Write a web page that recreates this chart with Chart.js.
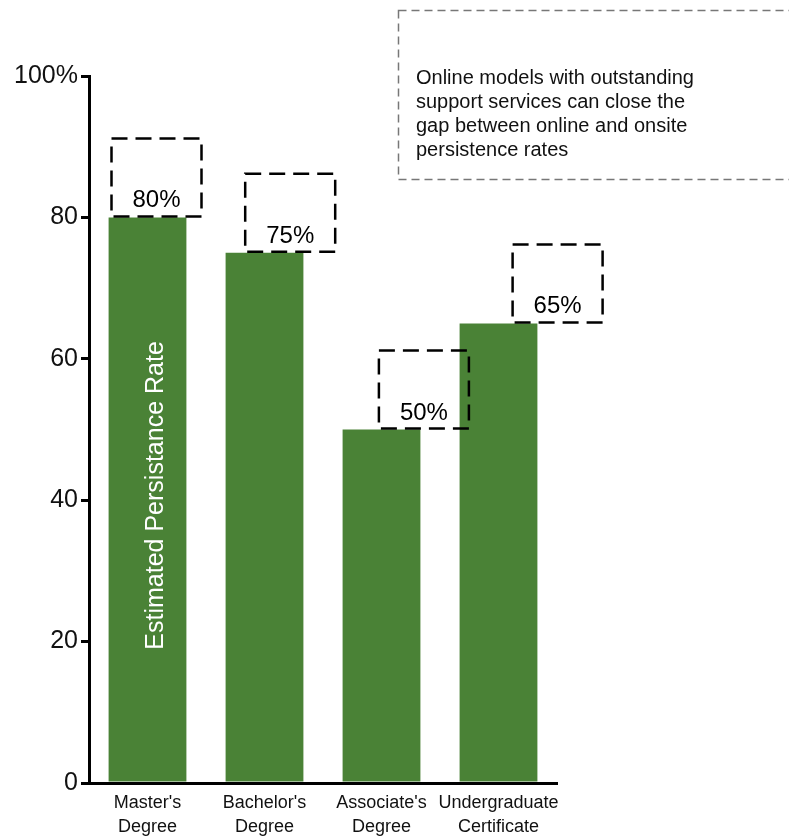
<!DOCTYPE html>
<html>
<head>
<meta charset="utf-8">
<style>
  html, body { margin: 0; padding: 0; background: #fff; }
  #wrap { width: 789px; height: 837px; }
</style>
<script src="https://cdn.jsdelivr.net/npm/chart.js@4/dist/chart.umd.min.js"></script>
</head>
<body>
<div id="wrap"><canvas id="rateChart" width="789" height="837"></canvas></div>
<script>
// categories and values
var categories = [["Master's", "Degree"], ["Bachelor's", "Degree"], ["Associate's", "Degree"], ["Undergraduate", "Certificate"]];
var rates = [80, 75, 50, 65];
var yTicks = [0, 20, 40, 60, 80, 100];
var axisTitle = 'Estimated Persistance Rate';
var noteLines = [
	'Online models with outstanding',
	'support services can close the',
	'gap between online and onsite',
	'persistence rates'
];

var green = '#4a8236';
var fontFace = '"Liberation Sans", Arial, Helvetica, sans-serif';

// dashed label boxes over each bar, plus the note and the rotated title
var overlay = {
	id: 'overlay',
	afterDatasetsDraw: function(chart) {
		var ctx = chart.ctx;
		var y = chart.scales.y;
		var bars = chart.getDatasetMeta(0).data;

		// title written inside the first bar
		var b0 = bars[0];
		ctx.save();
		ctx.translate(b0.x + 9, (b0.y + b0.base) / 2 - 4);
		ctx.rotate(-Math.PI / 2);
		ctx.fillStyle = '#ffffff';
		ctx.font = '25px ' + fontFace;
		ctx.textAlign = 'center';
		ctx.textBaseline = 'middle';
		ctx.fillText(axisTitle, 0, 0);
		ctx.restore();

		// value boxes
		ctx.save();
		ctx.strokeStyle = '#000';
		ctx.lineWidth = 2.5;
		ctx.setLineDash([16, 8]);
		ctx.font = '24px ' + fontFace;
		ctx.fillStyle = '#000';
		ctx.textAlign = 'center';
		ctx.textBaseline = 'alphabetic';
		rates.forEach(function(v, i) {
			var cx = bars[i].x + 9 + i * 16.7;
			var bottom = y.getPixelForValue(v) - 1;
			var top = bottom - 78;
			ctx.strokeRect(cx - 45, top, 90, bottom - top);
			ctx.fillText(v + '%', cx, bottom - 9);
		});
		ctx.restore();

		// note in the upper right
		ctx.save();
		ctx.strokeStyle = '#777';
		ctx.lineWidth = 1.5;
		ctx.setLineDash([8, 5]);
		ctx.strokeRect(398.5, 10.5, 420, 169);
		ctx.fillStyle = '#111';
		ctx.font = '20px ' + fontFace;
		ctx.textBaseline = 'middle';
		noteLines.forEach(function(t, i) {
			ctx.fillText(t, 416, 78 + i * 24);
		});
		ctx.restore();
	}
};

new Chart(document.getElementById('rateChart').getContext('2d'), {
	type: 'bar',
	data: {
		labels: categories,
		datasets: [{
			data: rates,
			backgroundColor: green,
			borderWidth: 0,
			barPercentage: 0.665,
			categoryPercentage: 1
		}]
	},
	options: {
		responsive: false,
		animation: false,
		devicePixelRatio: 1,
		layout: { padding: { top: 76, right: 232, left: 0, bottom: 0 } },
		plugins: {
			legend: { display: false },
			tooltip: { enabled: false }
		},
		scales: {
			x: {
				grid: { display: false, drawTicks: false },
				border: { display: true, color: '#000', width: 3 },
				ticks: {
					color: '#111',
					font: { family: fontFace, size: 18, lineHeight: 1.35 },
					padding: 8,
					maxRotation: 0,
					autoSkip: false
				},
				afterFit: function(scale) { scale.height = 54; }
			},
			y: {
				min: 0,
				max: 100,
				afterBuildTicks: function(scale) {
					scale.ticks = yTicks.map(function(v) { return { value: v }; });
				},
				grid: {
					drawOnChartArea: false,
					drawTicks: true,
					tickLength: 8,
					color: '#000',
					lineWidth: 3
				},
				border: { display: true, color: '#000', width: 3 },
				ticks: {
					color: '#111',
					font: { family: fontFace, size: 25 },
					padding: 3,
					callback: function(v) { return v === 100 ? '100%' : v; }
				},
				afterFit: function(scale) { scale.width = 89; }
			}
		}
	},
	plugins: [overlay]
});
</script>
</body>
</html>
